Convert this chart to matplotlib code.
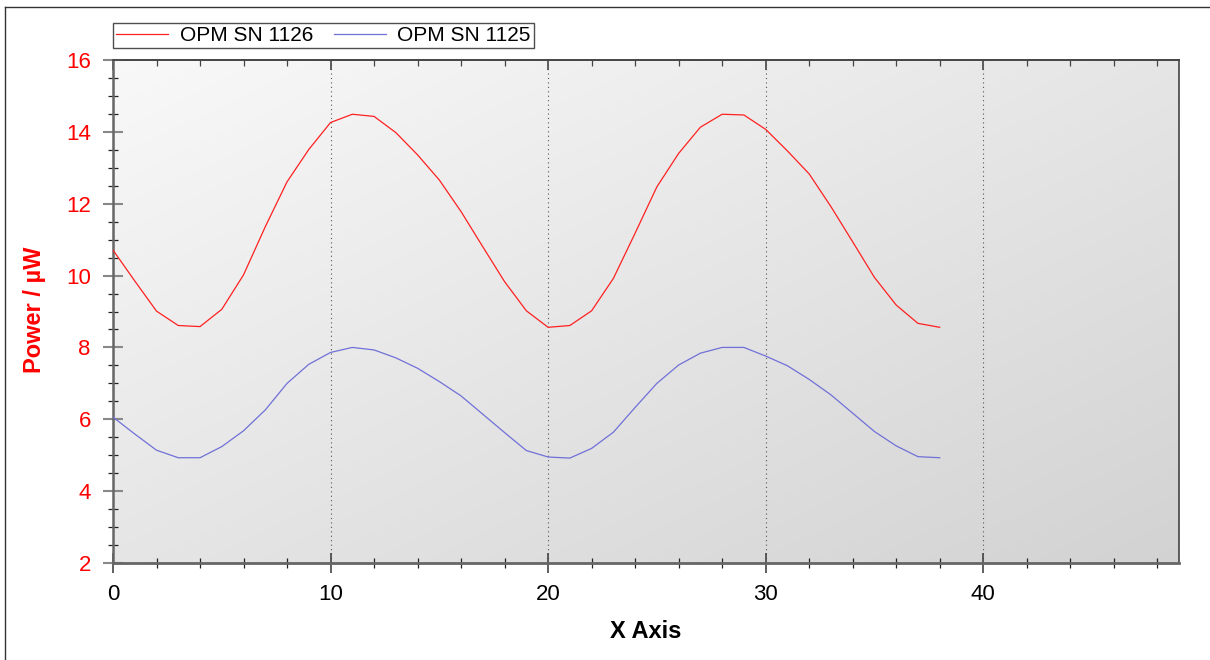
import numpy as np
import matplotlib
matplotlib.use('Agg')
import matplotlib.pyplot as plt
from matplotlib.ticker import MultipleLocator, NullFormatter
from matplotlib.lines import Line2D

plt.rcParams['font.family'] = ['Liberation Sans', 'DejaVu Sans']

# data
x = list(range(39))
sn1126 = [10.71, 9.85, 9.01, 8.61, 8.58, 9.06, 10.02, 11.36, 12.61, 13.51,
          14.26, 14.49, 14.43, 13.98, 13.36, 12.66, 11.78, 10.80, 9.83, 9.02,
          8.56, 8.61, 9.02, 9.92, 11.18, 12.47, 13.40, 14.13, 14.49, 14.47,
          14.07, 13.47, 12.83, 11.92, 10.94, 9.95, 9.18, 8.67, 8.56]
sn1125 = [6.06, 5.59, 5.14, 4.93, 4.93, 5.24, 5.68, 6.26, 7.00, 7.53,
          7.86, 8.00, 7.93, 7.71, 7.42, 7.05, 6.65, 6.14, 5.63, 5.13,
          4.95, 4.92, 5.19, 5.64, 6.33, 7.00, 7.51, 7.84, 8.00, 8.00,
          7.76, 7.49, 7.11, 6.68, 6.17, 5.66, 5.26, 4.96, 4.93]
labels = ['OPM SN 1126', 'OPM SN 1125']

W, H = 1210, 660
fig = plt.figure(figsize=(W / 100, H / 100), dpi=100, facecolor='white')
ax = fig.add_axes([113 / W, 1 - 563 / H, (1179 - 113) / W, (563 - 60) / H])

# diagonal grey gradient background (light top-left -> darker bottom-right)
gx, gy = np.meshgrid(np.linspace(0, 1, 200), np.linspace(0, 1, 200))
grad = (gx + (1 - gy)) / 2
shade = 0.975 - 0.15 * grad
rgb = np.dstack([shade, shade, shade])
ax.imshow(rgb, extent=[0, 1, 0, 1], transform=ax.transAxes,
          aspect='auto', zorder=0, origin='lower', interpolation='bilinear')

ax.plot(x, sn1126, color='#ff2020', lw=0.9, zorder=3)
ax.plot(x, sn1125, color='#7070d8', lw=0.9, zorder=3)

ax.set_xlim(0, 49)
ax.set_ylim(2, 16)
ax.xaxis.set_major_locator(MultipleLocator(10))
ax.xaxis.set_minor_locator(MultipleLocator(2))
ax.yaxis.set_major_locator(MultipleLocator(2))
ax.yaxis.set_minor_locator(MultipleLocator(0.5))

ax.grid(axis='x', which='major', color='#555555', ls=(0, (1, 3)), lw=0.8)

ax.tick_params(axis='x', which='major', direction='inout', length=14, width=1.2,
               color='#444444', labelsize=16, pad=8)
ax.tick_params(axis='x', which='minor', direction='inout', length=7, width=0.9,
               color='#222222')
ax.tick_params(axis='y', which='major', direction='inout', length=14, width=1.5,
               color='#888888', labelsize=16, labelcolor='red', pad=9)
ax.tick_params(axis='y', which='minor', direction='inout', length=7, width=0.9,
               color='#222222')

# top axis: inward ticks only, no labels
top = ax.secondary_xaxis('top')
top.xaxis.set_major_locator(MultipleLocator(10))
top.xaxis.set_minor_locator(MultipleLocator(2))
top.xaxis.set_major_formatter(NullFormatter())
top.tick_params(which='major', direction='in', length=7, width=1.2, color='#444444')
top.tick_params(which='minor', direction='in', length=4, width=0.9, color='#444444')
top.spines['top'].set_color('#444444')
top.spines['top'].set_linewidth(1.2)

for s in ax.spines.values():
    s.set_color('#444444')
    s.set_linewidth(1.2)
ax.spines['bottom'].set_color('#666666')
ax.spines['bottom'].set_linewidth(2)
ax.spines['left'].set_color('#666666')
ax.spines['left'].set_linewidth(1.8)

fig.text(35 / W, 1 - 310 / H, 'Power / µW', rotation=90, color='red',
         fontsize=17, fontweight='bold', ha='center', va='center')
fig.text(646 / W, 1 - 632 / H, 'X Axis', color='black',
         fontsize=17, fontweight='bold', ha='center', va='center')

handles = [Line2D([], [], color='#ff2020', lw=0.9),
           Line2D([], [], color='#7070d8', lw=0.9)]
leg = fig.legend(handles, labels, loc='lower left', ncol=2,
                 bbox_to_anchor=(113 / W, 1 - 48 / H), fontsize=15,
                 frameon=True, fancybox=False, borderpad=0.15,
                 handlelength=2.5, handletextpad=0.55, columnspacing=1.0,
                 borderaxespad=0)
leg.get_frame().set_edgecolor('#222222')
leg.get_frame().set_linewidth(1.0)

# outer frame lines (left and top only visible in the reference)
fig.add_artist(Line2D([5 / W, 5 / W], [0, 1 - 7 / H], color='#333333', lw=1,
                      transform=fig.transFigure))
fig.add_artist(Line2D([5 / W, 1], [1 - 7 / H, 1 - 7 / H], color='#333333', lw=1,
                      transform=fig.transFigure))

fig.savefig('out.png', dpi=100, facecolor='white')
plt.close(fig)
